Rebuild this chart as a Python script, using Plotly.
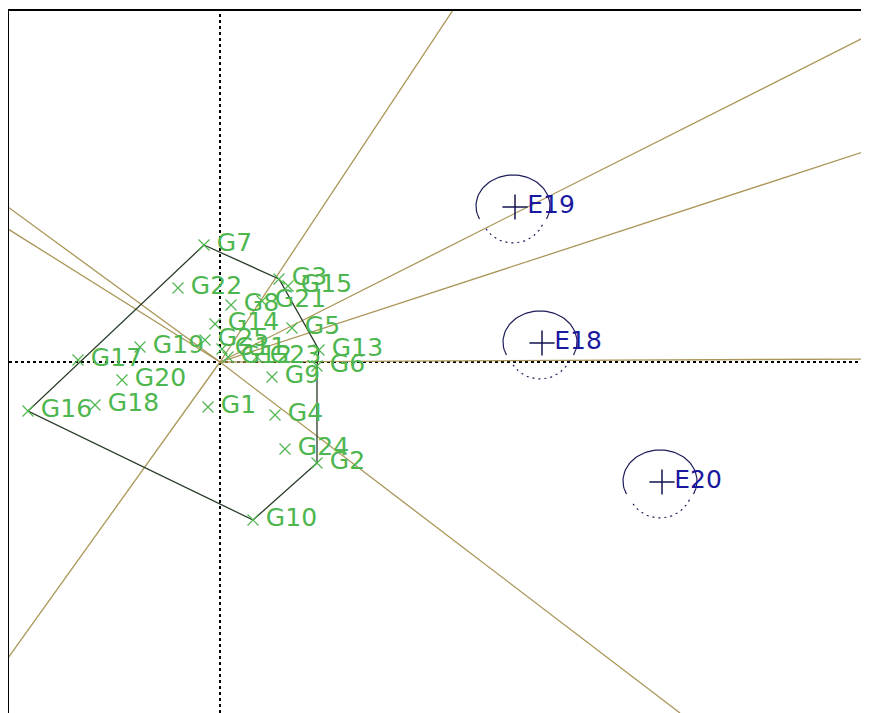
"""GGE biplot (which-won-where) rebuilt with Plotly."""

import numpy as np
import plotly.graph_objects as go

# Genotype scores (PC1, PC2)
gen_names = ["G1", "G2", "G3", "G4", "G5", "G6", "G7", "G8", "G9", "G10",
             "G11", "G12", "G13", "G14", "G15", "G16", "G17", "G18", "G19",
             "G20", "G21", "G22", "G23", "G24", "G25"]
gen_x = [-0.12, 0.97, 0.59, 0.55, 0.72, 0.97, -0.16, 0.11, 0.52, 0.33,
         0.02, 0.08, 0.99, -0.05, 0.68, -1.92, -1.42, -1.25, -0.80,
         -0.98, 0.42, -0.42, 0.37, 0.65, -0.15]
gen_y = [-0.45, -1.01, 0.83, -0.53, 0.34, -0.04, 1.17, 0.57, -0.15, -1.58,
         0.13, 0.05, 0.12, 0.38, 0.76, -0.49, 0.02, -0.43, 0.15,
         -0.18, 0.61, 0.74, 0.05, -0.87, 0.22]

# Polygon vertices (genotypes on the hull)
hull_names = ["G7", "G3", "G13", "G6", "G2", "G10", "G16", "G7"]

# Environment scores
env_names = ["E18", "E19", "E20"]
env_x = [3.22, 2.95, 4.42]
env_y = [0.19, 1.55, -1.20]

# Sector rays: end points (start at origin)
ray_x = [2.33, 6.49, 6.49, 6.49, 4.60, -2.12, -2.12, -2.12]
ray_y = [3.52, 3.27, 2.12, 0.03, -3.51, 1.55, 1.33, -2.96]

X_RANGE = [-2.11, 6.49]
Y_RANGE = [-3.51, 3.51]

GREEN = "rgb(78,182,78)"
RAY = "rgb(170,150,88)"
HULL = "rgb(40,60,40)"

fig = go.Figure()

# dotted axes through origin
fig.add_trace(go.Scatter(x=X_RANGE, y=[0, 0], mode="lines",
                         line=dict(color="black", width=2, dash="3px,3px"),
                         hoverinfo="skip"))
fig.add_trace(go.Scatter(x=[0, 0], y=Y_RANGE, mode="lines",
                         line=dict(color="black", width=2, dash="3px,3px"),
                         hoverinfo="skip"))

# sector rays
for rx, ry in zip(ray_x, ray_y):
    fig.add_trace(go.Scatter(x=[0, rx], y=[0, ry], mode="lines",
                             line=dict(color=RAY, width=1.3), hoverinfo="skip"))

# polygon
idx = [gen_names.index(n) for n in hull_names]
fig.add_trace(go.Scatter(x=[gen_x[i] for i in idx], y=[gen_y[i] for i in idx],
                         mode="lines", line=dict(color=HULL, width=1.3),
                         hoverinfo="skip"))

# environment circles: solid upper part, dotted lower part
t_solid = np.linspace(np.radians(-25), np.radians(205), 60)
t_dot = np.linspace(np.radians(215), np.radians(335), 20)
for cx, cy in zip(env_x, env_y):
    fig.add_trace(go.Scatter(x=cx - 0.02 + 0.37 * np.cos(t_solid), y=cy + 0.01 + 0.31 * np.sin(t_solid),
                             mode="lines", line=dict(color="rgb(30,30,90)", width=1.2),
                             hoverinfo="skip"))
    fig.add_trace(go.Scatter(x=cx - 0.02 + 0.33 * np.cos(t_dot), y=cy - 0.03 + 0.33 * np.sin(t_dot),
                             mode="lines", line=dict(color="rgb(30,30,90)", width=1.2, dash="2px,4px"),
                             hoverinfo="skip"))

# genotypes
fig.add_trace(go.Scatter(
    x=gen_x, y=gen_y, mode="markers+text", text=gen_names,
    texttemplate="\u2009%{text}",
    textposition="middle right",
    textfont=dict(family="DejaVu Sans", size=25, color=GREEN),
    marker=dict(symbol="x-thin", size=11, line=dict(color=GREEN, width=1.2)),
    hoverinfo="skip"))

# environments
fig.add_trace(go.Scatter(
    x=env_x, y=env_y, mode="markers+text", text=env_names,
    textposition="middle right",
    textfont=dict(family="DejaVu Sans", size=25, color="rgb(25,25,160)"),
    marker=dict(symbol="cross-thin", size=18, line=dict(color="rgb(20,20,80)", width=1.5)),
    hoverinfo="skip"))

fig.update_layout(
    width=861, height=705,
    margin=dict(l=1, r=0, t=3, b=0),
    plot_bgcolor="white", paper_bgcolor="white",
    showlegend=False,
    xaxis=dict(range=X_RANGE, side="top", showline=True, linecolor="black", linewidth=2,
               showgrid=False, zeroline=False, showticklabels=False, ticks=""),
    yaxis=dict(range=Y_RANGE, showline=True, linecolor="black", linewidth=2,
               showgrid=False, zeroline=False, showticklabels=False, ticks=""),
)

fig.write_html("out.html")
